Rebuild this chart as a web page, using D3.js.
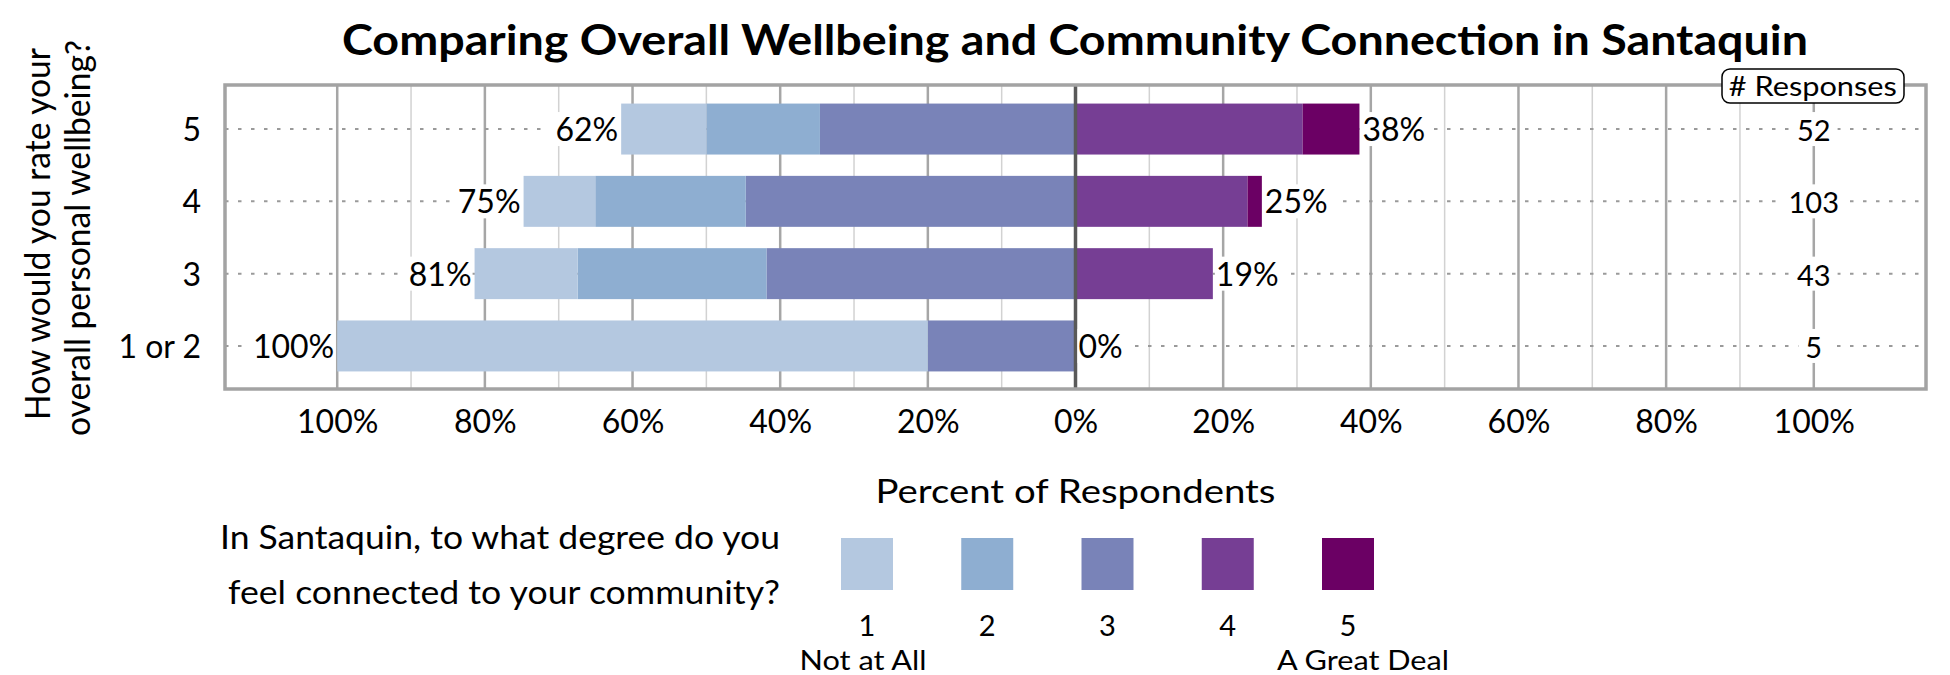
<!DOCTYPE html>
<html>
<head>
<meta charset="utf-8">
<script src="https://cdn.jsdelivr.net/npm/d3@7"></script>
<style>
  body { margin: 0; background: #fff; }
  text { font-family: Lato, "Open Sans", sans-serif; fill: #000; }
</style>
</head>
<body>
<svg id="chart" width="1950" height="675"></svg>
<script>
// rows of the wellbeing question, top to bottom
var categories = ["5", "4", "3", "1 or 2"];
var responses = [52, 103, 43, 5];
// answers to the community question, level 1 (Not at All) .. 5 (A Great Deal)
var countL1 = [6, 10, 6, 4];
var countL2 = [8, 21, 11, 0];
var countL3 = [18, 46, 18, 1];
var countL4 = [16, 24, 8, 0];
var countL5 = [4, 2, 0, 0];
var levels = ["1", "2", "3", "4", "5"];
var levelColors = ["#b4c8e0", "#8eaed1", "#7983b8", "#763e94", "#6b0064"];
var xTicks = [-100, -80, -60, -40, -20, 0, 20, 40, 60, 80, 100];

var svg = d3.select("#chart");
var plot = { left: 225, right: 1926, top: 86, bottom: 389 };

var x = d3.scaleLinear().domain([-115.2, 115.2]).range([plot.left, plot.right]);
var y = d3.scaleBand().domain(categories)
    .range([plot.top, plot.bottom])
    .paddingInner(0.295).paddingOuter(0.243);
var color = d3.scaleOrdinal().domain(levels).range(levelColors);
var mid = function (c) { return y(c) + y.bandwidth() / 2; };

// percent per level for every row
var rows = categories.map(function (c, i) {
    var n = responses[i];
    var counts = [countL1[i], countL2[i], countL3[i], countL4[i], countL5[i]];
    var p = counts.map(function (v) { return v / n * 100; });
    var segs = [];
    var acc = 0;
    [2, 1, 0].forEach(function (k) { segs.push({ lvl: k, a: -acc, b: -(acc + p[k]) }); acc += p[k]; });
    var left = acc;
    acc = 0;
    [3, 4].forEach(function (k) { segs.push({ lvl: k, a: acc, b: acc + p[k] }); acc += p[k]; });
    return { cat: c, n: n, segs: segs, left: left, right: acc,
             leftPct: Math.round((counts[0] + counts[1] + counts[2]) / n * 100),
             rightPct: Math.round((counts[3] + counts[4]) / n * 100) };
});

// vertical grid, 10% steps (darker every 20%)
svg.append("g").selectAll("line")
    .data(d3.range(-100, 101, 10).filter(function (v) { return v !== 0; }))
    .enter().append("line")
    .attr("x1", function (d) { return x(d); }).attr("x2", function (d) { return x(d); })
    .attr("y1", plot.top).attr("y2", plot.bottom)
    .attr("stroke", function (d) { return d % 20 === 0 ? "#a6a6a6" : "#d2d2d2"; })
    .attr("stroke-width", function (d) { return d % 20 === 0 ? 2.5 : 1.5; });

// dotted row guides
svg.append("g").selectAll("line").data(categories).enter().append("line")
    .attr("x1", plot.left).attr("x2", plot.right)
    .attr("y1", mid).attr("y2", mid)
    .attr("stroke", "#9a9a9a").attr("stroke-width", 2)
    .attr("stroke-dasharray", "3.5,9.5");

// bars
var rowG = svg.append("g").selectAll("g").data(rows).enter().append("g");
rowG.selectAll("rect").data(function (d) { return d.segs.map(function (s) { s.cat = d.cat; return s; }); })
    .enter().append("rect")
    .attr("x", function (s) { return x(Math.min(s.a, s.b)); })
    .attr("width", function (s) { return Math.abs(x(s.b) - x(s.a)); })
    .attr("y", function (s) { return y(s.cat); })
    .attr("height", y.bandwidth())
    .attr("fill", function (s) { return color(levels[s.lvl]); });

// centre line
svg.append("line")
    .attr("x1", x(0)).attr("x2", x(0)).attr("y1", plot.top - 2).attr("y2", plot.bottom)
    .attr("stroke", "#595959").attr("stroke-width", 3.5);

// labels with white backing (kept off the bar side)
function label(g, txt, xp, yp, anchor, size) {
    var bg = g.append("rect").attr("fill", "#fff");
    var t = g.append("text").attr("x", xp).attr("y", yp + 12)
        .attr("text-anchor", anchor).attr("font-size", size).text(txt);
    var bb = t.node().getBBox();
    var x0 = bb.x - 7, x1 = bb.x + bb.width + 7;
    if (anchor === "end") x1 = xp + 1;
    if (anchor === "start") x0 = xp - 1;
    bg.attr("x", x0).attr("width", x1 - x0)
      .attr("y", yp - 17).attr("height", 34);
}
var labG = svg.append("g");
rows.forEach(function (r) {
    label(labG, r.leftPct + "%", x(-r.left) - 3, mid(r.cat), "end", 32);
    label(labG, r.rightPct + "%", x(r.right) + 3, mid(r.cat), "start", 32);
    label(labG, String(r.n), x(100), mid(r.cat), "middle", 29);
});

// plot frame
svg.append("rect")
    .attr("x", plot.left).attr("y", plot.top - 1)
    .attr("width", plot.right - plot.left).attr("height", plot.bottom - plot.top + 1)
    .attr("fill", "none").attr("stroke", "#a3a3a3").attr("stroke-width", 3.5);

// # Responses header
var hdr = svg.append("g");
hdr.append("rect").attr("x", 1722).attr("y", 69).attr("width", 182).attr("height", 34)
    .attr("rx", 8).attr("fill", "#fff").attr("stroke", "#000").attr("stroke-width", 1.5);
hdr.append("text").attr("x", x(100) - 1).attr("y", 96).attr("text-anchor", "middle")
    .attr("font-size", 27).attr("textLength", 168).attr("lengthAdjust", "spacingAndGlyphs")
    .text("# Responses");

// x axis
var xAxis = d3.axisBottom(x).tickValues(xTicks).tickSize(0)
    .tickFormat(function (d) { return Math.abs(d) + "%"; });
var gx = svg.append("g").attr("transform", "translate(0,433)").call(xAxis);
gx.select(".domain").remove();
gx.selectAll("text").attr("y", 0).attr("dy", 0)
    .attr("font-size", 32).attr("font-family", "Lato, sans-serif").attr("fill", "#000");

// y axis (category labels)
var yAxis = d3.axisLeft(y).tickSize(0).tickPadding(0);
var gy = svg.append("g").attr("transform", "translate(201,0)").call(yAxis);
gy.select(".domain").remove();
gy.selectAll("text").attr("x", 0).attr("dy", 12)
    .attr("font-size", 32).attr("font-family", "Lato, sans-serif").attr("fill", "#000");

// titles
svg.append("text").attr("x", 1075).attr("y", 55).attr("text-anchor", "middle")
    .attr("font-size", 42).attr("font-weight", 700)
    .attr("textLength", 1466).attr("lengthAdjust", "spacingAndGlyphs")
    .text("Comparing Overall Wellbeing and Community Connection in Santaquin");

svg.append("text").attr("x", x(0)).attr("y", 503).attr("text-anchor", "middle")
    .attr("font-size", 32).attr("textLength", 400).attr("lengthAdjust", "spacingAndGlyphs")
    .text("Percent of Respondents");

svg.append("text").attr("transform", "translate(50,234) rotate(-90)")
    .attr("text-anchor", "middle").attr("font-size", 34)
    .attr("textLength", 372).attr("lengthAdjust", "spacingAndGlyphs")
    .text("How would you rate your");
svg.append("text").attr("transform", "translate(90,238) rotate(-90)")
    .attr("text-anchor", "middle").attr("font-size", 34)
    .attr("textLength", 396).attr("lengthAdjust", "spacingAndGlyphs")
    .text("overall personal wellbeing?");

// legend
var lg = svg.append("g");
lg.append("text").attr("x", 780).attr("y", 549).attr("text-anchor", "end")
    .attr("font-size", 32).attr("textLength", 560).attr("lengthAdjust", "spacingAndGlyphs")
    .text("In Santaquin, to what degree do you");
lg.append("text").attr("x", 780).attr("y", 604).attr("text-anchor", "end")
    .attr("font-size", 32).attr("textLength", 552).attr("lengthAdjust", "spacingAndGlyphs")
    .text("feel connected to your community?");

var lx = d3.scalePoint().domain(levels).range([867, 1348]);
lg.selectAll(".sw").data(levels).enter().append("rect").attr("class", "sw")
    .attr("x", function (d) { return lx(d) - 26; }).attr("y", 538)
    .attr("width", 52).attr("height", 52)
    .attr("fill", function (d) { return color(d); });
lg.selectAll(".num").data(levels).enter().append("text").attr("class", "num")
    .attr("x", function (d) { return lx(d); }).attr("y", 636)
    .attr("text-anchor", "middle").attr("font-size", 29)
    .text(function (d) { return d; });
lg.append("text").attr("x", lx("1") - 4).attr("y", 670).attr("text-anchor", "middle")
    .attr("font-size", 26).attr("textLength", 127).attr("lengthAdjust", "spacingAndGlyphs")
    .text("Not at All");
lg.append("text").attr("x", lx("5") + 15).attr("y", 670).attr("text-anchor", "middle")
    .attr("font-size", 26).attr("textLength", 172).attr("lengthAdjust", "spacingAndGlyphs")
    .text("A Great Deal");
</script>
</body>
</html>
